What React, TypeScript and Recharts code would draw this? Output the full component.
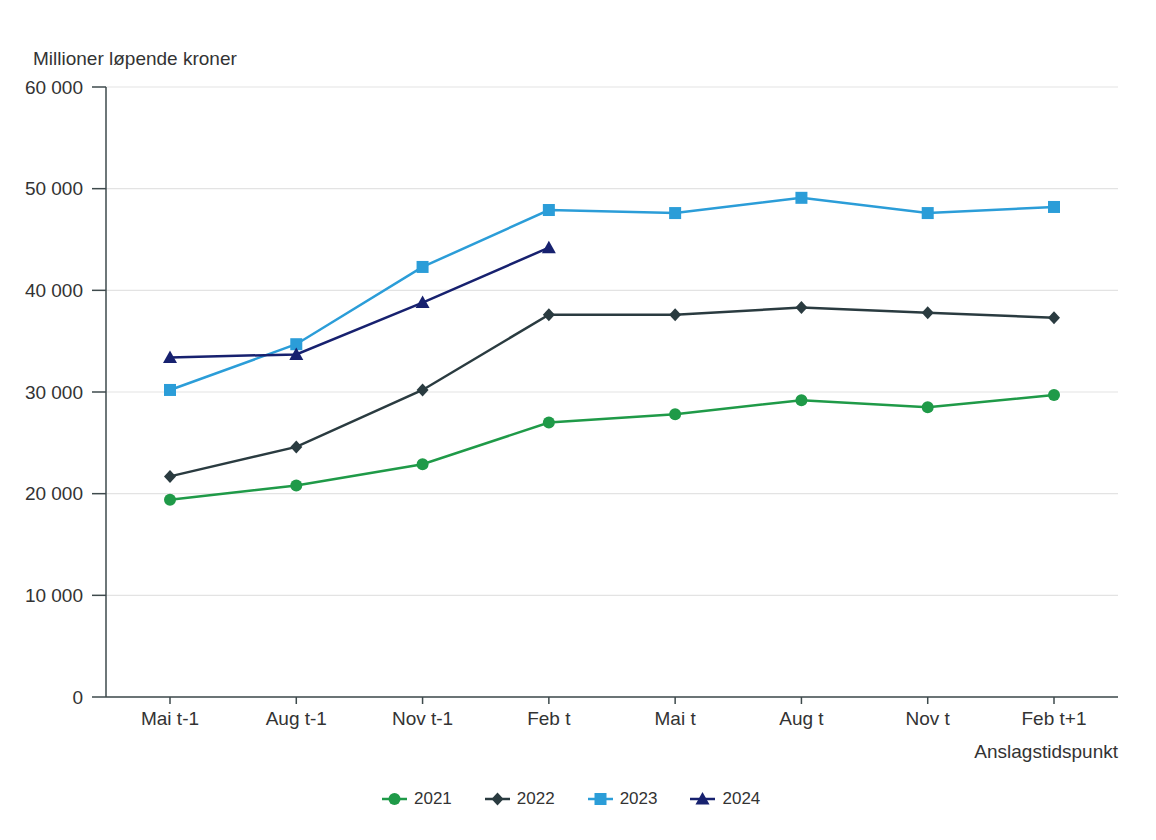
import React from 'react';
import { LineChart, Line, XAxis, YAxis, CartesianGrid, Label } from 'recharts';

const periods = ['Mai t-1', 'Aug t-1', 'Nov t-1', 'Feb t', 'Mai t', 'Aug t', 'Nov t', 'Feb t+1'];
const y2021 = [19400, 20800, 22900, 27000, 27800, 29200, 28500, 29700];
const y2022 = [21700, 24600, 30200, 37600, 37600, 38300, 37800, 37300];
const y2023 = [30200, 34700, 42300, 47900, 47600, 49100, 47600, 48200];
const y2024 = [33400, 33700, 38800, 44200, null, null, null, null];
const yTicks = [0, 10000, 20000, 30000, 40000, 50000, 60000];

const series = [
    { key: 'y2021', name: '2021', values: y2021, color: '#1f9a48', shape: 'circle' },
    { key: 'y2022', name: '2022', values: y2022, color: '#2a3b40', shape: 'diamond' },
    { key: 'y2023', name: '2023', values: y2023, color: '#2b9dd8', shape: 'square' },
    { key: 'y2024', name: '2024', values: y2024, color: '#17216f', shape: 'triangle' },
];

const data = periods.map((p, i) => {
    const row: any = { period: p };
    series.forEach(s => { row[s.key] = s.values[i]; });
    return row;
});

const FONT = '"Liberation Sans", Arial, sans-serif';
const TEXT = '#333333';
const AXIS = '#3e4a4c';

const fmt = (v: number) => v === 0 ? '0' : `${Math.floor(v / 1000)} ${String(v % 1000).padStart(3, '0')}`;

const Marker = ({ shape, cx, cy, color }: { shape: string, cx: number, cy: number, color: string }) => {
    if (shape === 'circle') return <circle cx={cx} cy={cy} r={6} fill={color} />;
    if (shape === 'diamond') return <path d={`M${cx},${cy - 6.5}L${cx + 6},${cy}L${cx},${cy + 6.5}L${cx - 6},${cy}Z`} fill={color} />;
    if (shape === 'square') return <rect x={cx - 6} y={cy - 6} width={12} height={12} fill={color} />;
    return <path d={`M${cx},${cy - 7}L${cx + 7},${cy + 5.5}L${cx - 7},${cy + 5.5}Z`} fill={color} />;
};

const makeDot = (shape: string, color: string) => (props: any) => {
    const { cx, cy, index, value } = props;
    if (cx == null || cy == null || value == null) return <g key={`d-${index}`} />;
    return <Marker key={`d-${index}`} shape={shape} cx={cx} cy={cy} color={color} />;
};

const LegendRow = () => (
    <div style={{ position: 'absolute', left: 382, top: 788, display: 'flex', alignItems: 'center', fontFamily: FONT, fontSize: 17, color: TEXT }}>
        {series.map(s => (
            <div key={s.key} style={{ display: 'flex', alignItems: 'center', marginRight: 33 }}>
                <svg width={25} height={22}>
                    <line x1={0} y1={11} x2={25} y2={11} stroke={s.color} strokeWidth={2.5} />
                    <Marker shape={s.shape} cx={12.5} cy={11} color={s.color} />
                </svg>
                <span style={{ marginLeft: 7 }}>{s.name}</span>
            </div>
        ))}
    </div>
);

const App: React.FC = () => (
    <div style={{ position: 'absolute', left: 0, top: 0, width: 1156, height: 840, background: '#fff', fontFamily: FONT }}>
        <div style={{ position: 'absolute', left: 33, top: 48, fontSize: 19, color: TEXT }}>Millioner løpende kroner</div>
        <LineChart width={1156} height={840} data={data} margin={{ top: 87, right: 38, left: 0, bottom: 73 }}>
            <CartesianGrid vertical={false} stroke="#e3e3e3" strokeWidth={1.2} />
            <XAxis
                dataKey="period"
                height={70}
                padding={{ left: 64, right: 64 }}
                tickSize={7}
                tickMargin={8}
                stroke={AXIS}
                strokeWidth={1.5}
                tick={{ fill: TEXT, fontSize: 19, fontFamily: FONT }}
            >
                <Label value="Anslagstidspunkt" position="insideBottomRight" offset={0} dy={-9} fill={TEXT} fontSize={19} fontFamily={FONT} />
            </XAxis>
            <YAxis
                width={106}
                domain={[0, 60000]}
                ticks={yTicks}
                tickFormatter={fmt}
                tickSize={14}
                tickMargin={9}
                stroke={AXIS}
                strokeWidth={1.5}
                tick={{ fill: TEXT, fontSize: 19, fontFamily: FONT }}
            />
            {series.map(s => (
                <Line
                    key={s.key}
                    dataKey={s.key}
                    name={s.name}
                    stroke={s.color}
                    strokeWidth={2.5}
                    dot={makeDot(s.shape, s.color)}
                    activeDot={false}
                    isAnimationActive={false}
                />
            ))}
        </LineChart>
        <LegendRow />
    </div>
);

export default App;
